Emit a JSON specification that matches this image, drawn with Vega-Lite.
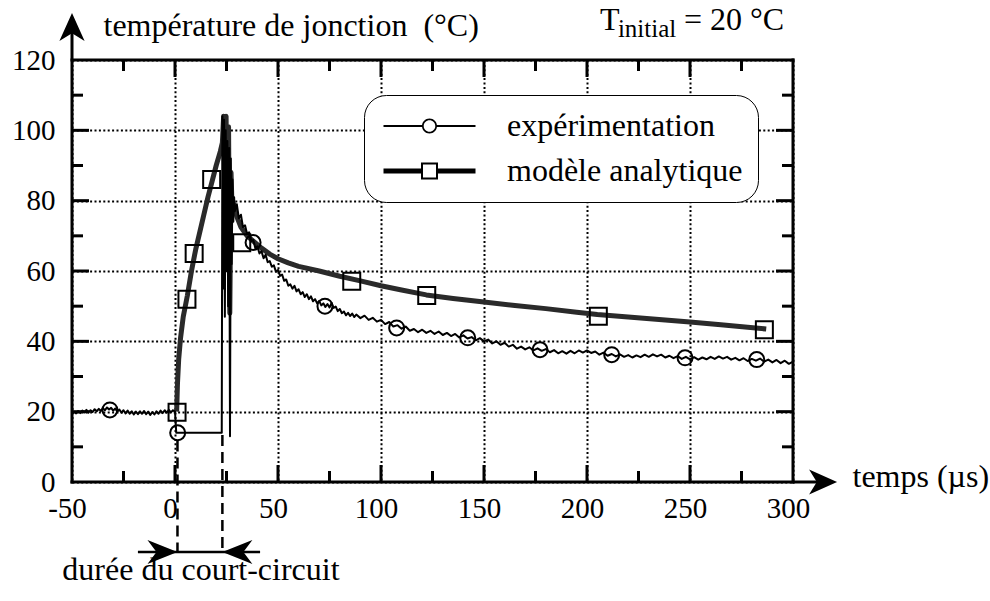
{
  "$schema": "https://vega.github.io/schema/vega-lite/v6.json",
  "width": 721,
  "height": 422,
  "autosize": "none",
  "padding": {"left": 72, "top": 60, "right": 197, "bottom": 119},
  "background": "white",
  "config": {
    "view": {"stroke": null},
    "font": "Liberation Serif",
    "text": {"font": "Liberation Serif", "color": "black"}
  },
  "datasets": {
    "exp": [
      {"t": -50, "temp": 19.4}, {"t": -49, "temp": 19.9}, {"t": -48, "temp": 19.5}, {"t": -47, "temp": 20.2},
      {"t": -46, "temp": 19.6}, {"t": -45, "temp": 20.3}, {"t": -44, "temp": 19.8}, {"t": -43, "temp": 20.5},
      {"t": -42, "temp": 19.7}, {"t": -41, "temp": 20.4}, {"t": -40, "temp": 19.9}, {"t": -39, "temp": 20.7},
      {"t": -38, "temp": 20.1}, {"t": -37, "temp": 20.8}, {"t": -36, "temp": 20.2}, {"t": -35, "temp": 21.0},
      {"t": -34, "temp": 20.4}, {"t": -33, "temp": 21.2}, {"t": -32, "temp": 20.6}, {"t": -31, "temp": 21.1},
      {"t": -30, "temp": 20.3}, {"t": -29, "temp": 20.9}, {"t": -28, "temp": 20.0}, {"t": -27, "temp": 20.6},
      {"t": -26, "temp": 19.7}, {"t": -25, "temp": 20.4}, {"t": -24, "temp": 19.5}, {"t": -23, "temp": 20.3},
      {"t": -22, "temp": 19.4}, {"t": -21, "temp": 20.1}, {"t": -20, "temp": 19.2}, {"t": -19, "temp": 20.0},
      {"t": -18, "temp": 19.3}, {"t": -17, "temp": 20.1}, {"t": -16, "temp": 19.4}, {"t": -15, "temp": 20.2},
      {"t": -14, "temp": 19.3}, {"t": -13, "temp": 20.0}, {"t": -12, "temp": 19.1}, {"t": -11, "temp": 19.9},
      {"t": -10, "temp": 19.2}, {"t": -9, "temp": 20.1}, {"t": -8, "temp": 19.4}, {"t": -7, "temp": 20.3},
      {"t": -6, "temp": 19.6}, {"t": -5, "temp": 20.4}, {"t": -4, "temp": 19.7}, {"t": -3, "temp": 20.5},
      {"t": -2, "temp": 19.8}, {"t": -1, "temp": 20.4}, {"t": 0, "temp": 20.0}, {"t": 0.6, "temp": 14.0},
      {"t": 22.7, "temp": 14.0}, {"t": 23.0, "temp": 104}, {"t": 23.4, "temp": 55}, {"t": 23.8, "temp": 103},
      {"t": 24.2, "temp": 47}, {"t": 24.6, "temp": 100}, {"t": 25.0, "temp": 60}, {"t": 25.4, "temp": 97},
      {"t": 25.8, "temp": 50}, {"t": 26.3, "temp": 95}, {"t": 26.7, "temp": 13}, {"t": 27.1, "temp": 92},
      {"t": 27.5, "temp": 62}, {"t": 27.9, "temp": 86}, {"t": 28.3, "temp": 74}, {"t": 28.7, "temp": 81},
      {"t": 29, "temp": 77}, {"t": 30, "temp": 79}, {"t": 31, "temp": 75}, {"t": 32, "temp": 76},
      {"t": 33, "temp": 72.5}, {"t": 34, "temp": 73}, {"t": 35, "temp": 70.5}, {"t": 36, "temp": 71},
      {"t": 37, "temp": 68.5}, {"t": 38, "temp": 68.8}, {"t": 39, "temp": 66.5}, {"t": 40, "temp": 67},
      {"t": 41, "temp": 65}, {"t": 42, "temp": 65.6}, {"t": 43, "temp": 63.6}, {"t": 44, "temp": 64.6},
      {"t": 45, "temp": 62.5}, {"t": 46, "temp": 62.8}, {"t": 47, "temp": 61.2}, {"t": 48, "temp": 61.6},
      {"t": 49, "temp": 59.8}, {"t": 50, "temp": 60.3}, {"t": 51, "temp": 58.6}, {"t": 52, "temp": 59},
      {"t": 53, "temp": 57.2}, {"t": 54, "temp": 57.6}, {"t": 55, "temp": 55.8}, {"t": 56, "temp": 56.2},
      {"t": 57, "temp": 55.0}, {"t": 58, "temp": 55.8}, {"t": 59, "temp": 54.2}, {"t": 60, "temp": 54.8},
      {"t": 61, "temp": 53.4}, {"t": 62, "temp": 54.0}, {"t": 63, "temp": 52.6}, {"t": 64, "temp": 53.4},
      {"t": 65, "temp": 52.0}, {"t": 66, "temp": 52.8}, {"t": 67, "temp": 51.4}, {"t": 68, "temp": 52.0},
      {"t": 69, "temp": 50.8}, {"t": 70, "temp": 51.5}, {"t": 71, "temp": 50.2}, {"t": 72, "temp": 50.8},
      {"t": 73, "temp": 49.8}, {"t": 74, "temp": 50.6}, {"t": 75, "temp": 49.6}, {"t": 76, "temp": 50.9},
      {"t": 77, "temp": 49.5}, {"t": 78, "temp": 49.9}, {"t": 79, "temp": 48.6}, {"t": 80, "temp": 49.2},
      {"t": 81, "temp": 48.0}, {"t": 82, "temp": 48.5}, {"t": 83, "temp": 47.4}, {"t": 84, "temp": 48.1},
      {"t": 85, "temp": 47.2}, {"t": 86, "temp": 47.9}, {"t": 87, "temp": 46.9}, {"t": 88, "temp": 47.6},
      {"t": 90, "temp": 46.6}, {"t": 92, "temp": 47.3}, {"t": 94, "temp": 46.1}, {"t": 96, "temp": 46.7},
      {"t": 98, "temp": 45.6}, {"t": 100, "temp": 46.1}, {"t": 102, "temp": 44.9}, {"t": 104, "temp": 45.5},
      {"t": 106, "temp": 44.2}, {"t": 108, "temp": 44.6}, {"t": 110, "temp": 43.6}, {"t": 112, "temp": 44.2},
      {"t": 114, "temp": 43.0}, {"t": 116, "temp": 43.5}, {"t": 118, "temp": 42.6}, {"t": 120, "temp": 43.3},
      {"t": 122, "temp": 42.4}, {"t": 124, "temp": 43.0}, {"t": 126, "temp": 42.1}, {"t": 128, "temp": 42.8},
      {"t": 130, "temp": 41.8}, {"t": 132, "temp": 42.4}, {"t": 134, "temp": 41.5}, {"t": 136, "temp": 42.1},
      {"t": 138, "temp": 41.1}, {"t": 140, "temp": 41.7}, {"t": 142, "temp": 40.8}, {"t": 144, "temp": 41.2},
      {"t": 146, "temp": 40.3}, {"t": 148, "temp": 40.9}, {"t": 150, "temp": 40.0}, {"t": 152, "temp": 40.5},
      {"t": 154, "temp": 39.4}, {"t": 156, "temp": 40.0}, {"t": 158, "temp": 39.0}, {"t": 160, "temp": 39.6},
      {"t": 162, "temp": 38.5}, {"t": 164, "temp": 39.0}, {"t": 166, "temp": 37.9}, {"t": 168, "temp": 38.5},
      {"t": 170, "temp": 37.7}, {"t": 172, "temp": 38.3}, {"t": 174, "temp": 37.4}, {"t": 176, "temp": 38.0},
      {"t": 178, "temp": 37.3}, {"t": 180, "temp": 37.8}, {"t": 182, "temp": 36.9}, {"t": 184, "temp": 37.5},
      {"t": 186, "temp": 36.6}, {"t": 188, "temp": 37.2}, {"t": 190, "temp": 36.5}, {"t": 192, "temp": 37.3},
      {"t": 194, "temp": 36.6}, {"t": 196, "temp": 37.4}, {"t": 198, "temp": 36.8}, {"t": 200, "temp": 37.4},
      {"t": 202, "temp": 36.7}, {"t": 204, "temp": 37.1}, {"t": 206, "temp": 36.2}, {"t": 208, "temp": 36.8},
      {"t": 210, "temp": 35.9}, {"t": 212, "temp": 36.4}, {"t": 214, "temp": 35.7}, {"t": 216, "temp": 36.3},
      {"t": 218, "temp": 35.6}, {"t": 220, "temp": 36.1}, {"t": 222, "temp": 35.4}, {"t": 224, "temp": 36.0},
      {"t": 226, "temp": 35.5}, {"t": 228, "temp": 36.2}, {"t": 230, "temp": 35.6}, {"t": 232, "temp": 36.3},
      {"t": 234, "temp": 35.7}, {"t": 236, "temp": 36.2}, {"t": 238, "temp": 35.4}, {"t": 240, "temp": 35.9},
      {"t": 242, "temp": 35.2}, {"t": 244, "temp": 35.8}, {"t": 246, "temp": 35.0}, {"t": 248, "temp": 35.6},
      {"t": 250, "temp": 34.9}, {"t": 252, "temp": 35.5}, {"t": 254, "temp": 34.8}, {"t": 256, "temp": 35.4},
      {"t": 258, "temp": 34.9}, {"t": 260, "temp": 35.6}, {"t": 262, "temp": 35.0}, {"t": 264, "temp": 35.7},
      {"t": 266, "temp": 35.1}, {"t": 268, "temp": 35.6}, {"t": 270, "temp": 34.8}, {"t": 272, "temp": 35.3},
      {"t": 274, "temp": 34.6}, {"t": 276, "temp": 35.2}, {"t": 278, "temp": 34.4}, {"t": 280, "temp": 35.0},
      {"t": 282, "temp": 34.5}, {"t": 284, "temp": 35.1}, {"t": 286, "temp": 34.2}, {"t": 288, "temp": 34.8},
      {"t": 290, "temp": 34.0}, {"t": 292, "temp": 34.7}, {"t": 294, "temp": 33.8}, {"t": 296, "temp": 34.5},
      {"t": 298, "temp": 33.6}, {"t": 300, "temp": 34.2}
    ],
    "mod": [
      {"t": 0.8, "temp": 20}, {"t": 1.2, "temp": 28}, {"t": 1.8, "temp": 35}, {"t": 2.7, "temp": 41},
      {"t": 4, "temp": 47}, {"t": 6, "temp": 53}, {"t": 8, "temp": 60}, {"t": 10, "temp": 66},
      {"t": 12, "temp": 71}, {"t": 14, "temp": 76}, {"t": 16, "temp": 81}, {"t": 18, "temp": 85.5},
      {"t": 20, "temp": 90}, {"t": 22, "temp": 94}, {"t": 23, "temp": 96.5}, {"t": 23.6, "temp": 104},
      {"t": 24.2, "temp": 82}, {"t": 24.8, "temp": 104}, {"t": 25.4, "temp": 62}, {"t": 26, "temp": 101},
      {"t": 26.6, "temp": 48}, {"t": 27.2, "temp": 88}, {"t": 27.8, "temp": 76}, {"t": 28.5, "temp": 79},
      {"t": 30, "temp": 75.5}, {"t": 32, "temp": 72.5}, {"t": 35, "temp": 70}, {"t": 38, "temp": 68.5},
      {"t": 42, "temp": 66.5}, {"t": 46, "temp": 64.8}, {"t": 50, "temp": 63.5}, {"t": 55, "temp": 62.3},
      {"t": 60, "temp": 61.3}, {"t": 70, "temp": 60}, {"t": 80, "temp": 58.5}, {"t": 90, "temp": 57.2},
      {"t": 100, "temp": 55.8}, {"t": 110, "temp": 54.6}, {"t": 122, "temp": 53.2}, {"t": 135, "temp": 52.2},
      {"t": 150, "temp": 51.2}, {"t": 165, "temp": 50.2}, {"t": 180, "temp": 49.3}, {"t": 195, "temp": 48.3},
      {"t": 205, "temp": 47.6}, {"t": 220, "temp": 46.9}, {"t": 235, "temp": 46.2}, {"t": 250, "temp": 45.5},
      {"t": 265, "temp": 44.7}, {"t": 278, "temp": 44}, {"t": 287, "temp": 43.5}
    ],
    "exp_pts": [
      {"t": -31.6, "temp": 20.5}, {"t": 1.3, "temp": 14}, {"t": 37.9, "temp": 68.1}, {"t": 72.8, "temp": 50},
      {"t": 107.6, "temp": 43.8}, {"t": 142.1, "temp": 41}, {"t": 177.2, "temp": 37.6}, {"t": 212, "temp": 36.2},
      {"t": 247.6, "temp": 35.3}, {"t": 282.4, "temp": 34.8}
    ],
    "mod_pts": [
      {"t": 1, "temp": 19.8}, {"t": 5.8, "temp": 52}, {"t": 9.3, "temp": 65}, {"t": 17.8, "temp": 86},
      {"t": 32.4, "temp": 68}, {"t": 85.8, "temp": 57.1}, {"t": 122.2, "temp": 53}, {"t": 205.5, "temp": 47.1},
      {"t": 286.1, "temp": 43.3}
    ],
    "series": [
      {"serie": "expérimentation"}, {"serie": "modèle analytique"}
    ]
  },
  "layer": [
    {
      "data": {"name": "mod"},
      "mark": {"type": "line", "color": "#2a2a2a", "strokeWidth": 5, "strokeJoin": "round"},
      "encoding": {
        "x": {
          "field": "t", "type": "quantitative",
          "scale": {"domain": [-50, 300], "nice": false, "zero": false},
          "axis": {
            "orient": "bottom",
            "values": [-50, 0, 50, 100, 150, 200, 250, 300],
            "domain": false, "ticks": false,
            "grid": true, "gridColor": "black", "gridWidth": 2, "gridDash": [2, 2.4],
            "labelExpr": "'' + datum.value",
            "labelFont": "Liberation Serif", "labelFontSize": 29, "labelColor": "black",
            "labelBaseline": "top", "labelPadding": 12, "labelFlush": false, "labelOverlap": false,
            "labelOffset": -5,
            "title": "temps (µs)", "titleFont": "Liberation Serif", "titleFontSize": 32,
            "titleFontWeight": "normal", "titleColor": "black", "titleAngle": 0,
            "titleAlign": "left", "titleBaseline": "alphabetic", "titleX": 780, "titleY": 4
          }
        },
        "y": {
          "field": "temp", "type": "quantitative",
          "scale": {"domain": [0, 120], "nice": false, "zero": false},
          "axis": {
            "orient": "left",
            "values": [0, 20, 40, 60, 80, 100, 120],
            "domain": false, "ticks": false,
            "grid": true, "gridColor": "black", "gridWidth": 2, "gridDash": [2, 2.4],
            "labelFont": "Liberation Serif", "labelFontSize": 29, "labelColor": "black",
            "labelPadding": 17, "labelFlush": false, "labelOverlap": false,
            "title": "température de jonction\u00a0 (°C)", "titleFont": "Liberation Serif", "titleFontSize": 32,
            "titleFontWeight": "normal", "titleColor": "black", "titleAngle": 0,
            "titleAlign": "left", "titleBaseline": "alphabetic", "titleX": 31, "titleY": -25
          }
        }
      }
    },
    {
      "data": {"name": "exp"},
      "mark": {"type": "line", "color": "black", "strokeWidth": 2, "strokeJoin": "round"},
      "encoding": {
        "x": {"field": "t", "type": "quantitative", "scale": {"domain": [-50, 300], "nice": false, "zero": false}, "axis": null},
        "y": {"field": "temp", "type": "quantitative", "scale": {"domain": [0, 120], "nice": false, "zero": false}, "axis": null}
      }
    },
    {
      "data": {"name": "exp_pts"},
      "mark": {"type": "point", "shape": "circle", "size": 225, "filled": false, "color": "black", "strokeWidth": 2, "opacity": 1},
      "encoding": {
        "x": {"field": "t", "type": "quantitative", "scale": {"domain": [-50, 300], "nice": false, "zero": false}, "axis": null},
        "y": {"field": "temp", "type": "quantitative", "scale": {"domain": [0, 120], "nice": false, "zero": false}, "axis": null}
      }
    },
    {
      "data": {"name": "mod_pts"},
      "mark": {"type": "point", "shape": "square", "size": 289, "filled": false, "color": "black", "strokeWidth": 2, "opacity": 1},
      "encoding": {
        "x": {"field": "t", "type": "quantitative", "scale": {"domain": [-50, 300], "nice": false, "zero": false}, "axis": null},
        "y": {"field": "temp", "type": "quantitative", "scale": {"domain": [0, 120], "nice": false, "zero": false}, "axis": null}
      }
    },
    {
      "data": {"values": [{}]},
      "mark": {"type": "rule", "color": "black", "strokeWidth": 3, "strokeCap": "square"},
      "encoding": {
        "x": {"datum": -50, "type": "quantitative", "scale": {"domain": [-50, 300], "nice": false, "zero": false}, "axis": null},
        "x2": {"datum": 300},
        "y": {"datum": 0, "type": "quantitative", "scale": {"domain": [0, 120], "nice": false, "zero": false}, "axis": null}
      }
    },
    {
      "data": {"values": [{}]},
      "mark": {"type": "rule", "color": "black", "strokeWidth": 3, "strokeCap": "square"},
      "encoding": {
        "x": {"datum": -50, "type": "quantitative", "scale": {"domain": [-50, 300], "nice": false, "zero": false}, "axis": null},
        "x2": {"datum": 300},
        "y": {"datum": 120, "type": "quantitative", "scale": {"domain": [0, 120], "nice": false, "zero": false}, "axis": null}
      }
    },
    {
      "data": {"values": [{}]},
      "mark": {"type": "rule", "color": "black", "strokeWidth": 3, "strokeCap": "square"},
      "encoding": {
        "x": {"datum": -50, "type": "quantitative", "scale": {"domain": [-50, 300], "nice": false, "zero": false}, "axis": null},
        "y": {"datum": 0, "type": "quantitative", "scale": {"domain": [0, 120], "nice": false, "zero": false}, "axis": null},
        "y2": {"datum": 128}
      }
    },
    {
      "data": {"values": [{}]},
      "mark": {"type": "rule", "color": "black", "strokeWidth": 3, "strokeCap": "square"},
      "encoding": {
        "x": {"datum": 300, "type": "quantitative", "scale": {"domain": [-50, 300], "nice": false, "zero": false}, "axis": null},
        "y": {"datum": 0, "type": "quantitative", "scale": {"domain": [0, 120], "nice": false, "zero": false}, "axis": null},
        "y2": {"datum": 120}
      }
    },
    {
      "data": {"values": [{"tick": 0}, {"tick": 50}, {"tick": 100}, {"tick": 150}, {"tick": 200}, {"tick": 250}]},
      "mark": {"type": "rule", "color": "black", "strokeWidth": 3},
      "encoding": {
        "x": {"field": "tick", "type": "quantitative", "scale": {"domain": [-50, 300], "nice": false, "zero": false}, "axis": null},
        "y": {"datum": 0, "type": "quantitative", "scale": {"domain": [0, 120], "nice": false, "zero": false}, "axis": null},
        "y2": {"datum": 4.83}
      }
    },
    {
      "data": {"values": [{"tick": 0}, {"tick": 50}, {"tick": 100}, {"tick": 150}, {"tick": 200}, {"tick": 250}]},
      "mark": {"type": "rule", "color": "black", "strokeWidth": 3},
      "encoding": {
        "x": {"field": "tick", "type": "quantitative", "scale": {"domain": [-50, 300], "nice": false, "zero": false}, "axis": null},
        "y": {"datum": 120, "type": "quantitative", "scale": {"domain": [0, 120], "nice": false, "zero": false}, "axis": null},
        "y2": {"datum": 115.17}
      }
    },
    {
      "data": {"values": [{"tick": -25}, {"tick": 25}, {"tick": 75}, {"tick": 125}, {"tick": 175}, {"tick": 225}, {"tick": 275}]},
      "mark": {"type": "rule", "color": "black", "strokeWidth": 3},
      "encoding": {
        "x": {"field": "tick", "type": "quantitative", "scale": {"domain": [-50, 300], "nice": false, "zero": false}, "axis": null},
        "y": {"datum": 0, "type": "quantitative", "scale": {"domain": [0, 120], "nice": false, "zero": false}, "axis": null},
        "y2": {"datum": 3.13}
      }
    },
    {
      "data": {"values": [{"tick": -25}, {"tick": 25}, {"tick": 75}, {"tick": 125}, {"tick": 175}, {"tick": 225}, {"tick": 275}]},
      "mark": {"type": "rule", "color": "black", "strokeWidth": 3},
      "encoding": {
        "x": {"field": "tick", "type": "quantitative", "scale": {"domain": [-50, 300], "nice": false, "zero": false}, "axis": null},
        "y": {"datum": 120, "type": "quantitative", "scale": {"domain": [0, 120], "nice": false, "zero": false}, "axis": null},
        "y2": {"datum": 116.87}
      }
    },
    {
      "data": {"values": [{"tick": 20}, {"tick": 40}, {"tick": 60}, {"tick": 80}, {"tick": 100}]},
      "mark": {"type": "rule", "color": "black", "strokeWidth": 3},
      "encoding": {
        "y": {"field": "tick", "type": "quantitative", "scale": {"domain": [0, 120], "nice": false, "zero": false}, "axis": null},
        "x": {"datum": -50, "type": "quantitative", "scale": {"domain": [-50, 300], "nice": false, "zero": false}, "axis": null},
        "x2": {"datum": -41.75}
      }
    },
    {
      "data": {"values": [{"tick": 20}, {"tick": 40}, {"tick": 60}, {"tick": 80}, {"tick": 100}]},
      "mark": {"type": "rule", "color": "black", "strokeWidth": 3},
      "encoding": {
        "y": {"field": "tick", "type": "quantitative", "scale": {"domain": [0, 120], "nice": false, "zero": false}, "axis": null},
        "x": {"datum": 300, "type": "quantitative", "scale": {"domain": [-50, 300], "nice": false, "zero": false}, "axis": null},
        "x2": {"datum": 291.75}
      }
    },
    {
      "data": {"values": [{"tick": 10}, {"tick": 30}, {"tick": 50}, {"tick": 70}, {"tick": 90}, {"tick": 110}]},
      "mark": {"type": "rule", "color": "black", "strokeWidth": 3},
      "encoding": {
        "y": {"field": "tick", "type": "quantitative", "scale": {"domain": [0, 120], "nice": false, "zero": false}, "axis": null},
        "x": {"datum": -50, "type": "quantitative", "scale": {"domain": [-50, 300], "nice": false, "zero": false}, "axis": null},
        "x2": {"datum": -44.66}
      }
    },
    {
      "data": {"values": [{"tick": 10}, {"tick": 30}, {"tick": 50}, {"tick": 70}, {"tick": 90}, {"tick": 110}]},
      "mark": {"type": "rule", "color": "black", "strokeWidth": 3},
      "encoding": {
        "y": {"field": "tick", "type": "quantitative", "scale": {"domain": [0, 120], "nice": false, "zero": false}, "axis": null},
        "x": {"datum": 300, "type": "quantitative", "scale": {"domain": [-50, 300], "nice": false, "zero": false}, "axis": null},
        "x2": {"datum": 294.66}
      }
    },
    {
      "data": {"name": "series"},
      "mark": {"type": "point", "opacity": 0, "filled": true, "color": "black", "strokeWidth": 0},
      "encoding": {
        "x": {"datum": 100, "type": "quantitative", "scale": {"domain": [-50, 300], "nice": false, "zero": false}, "axis": null},
        "y": {"datum": 100, "type": "quantitative", "scale": {"domain": [0, 120], "nice": false, "zero": false}, "axis": null},
        "shape": {
          "field": "serie", "type": "nominal",
          "scale": {
            "domain": ["expérimentation", "modèle analytique"],
            "range": [
              "M-4.6,-0.1H-0.72V0.1H-4.6Z M0.72,-0.1H4.6V0.1H0.72Z M0.75,0A0.75,0.75,0,1,1,-0.75,0A0.75,0.75,0,1,1,0.75,0Z M0.58,0A0.58,0.58,0,1,0,-0.58,0A0.58,0.58,0,1,0,0.58,0Z",
              "M-4.6,-0.25H-0.8V0.25H-4.6Z M0.8,-0.25H4.6V0.25H0.8Z M-0.85,-0.85H0.85V0.85H-0.85Z M-0.65,-0.65V0.65H0.65V-0.65Z"
            ]
          },
          "legend": {
            "orient": "top-right", "offset": 35, "title": null,
            "symbolSize": 400, "symbolOffset": 34.5, "labelOffset": 61.5, "labelLimit": 500,
            "symbolFillColor": "black", "symbolStrokeColor": "black", "symbolStrokeWidth": 0, "symbolOpacity": 1,
            "labelFont": "Liberation Serif", "labelFontSize": 32, "labelColor": "black",
            "padding": 15, "rowPadding": 13,
            "strokeColor": "black", "fillColor": "white", "cornerRadius": 22,
            "encode": {
              "symbols": {"fill": {"value": "black"}, "stroke": {"value": "transparent"}, "opacity": {"value": 1}},
              "legend": {"strokeWidth": {"value": 3}}
            }
          }
        }
      }
    },
    {
      "data": {"values": [{}]},
      "mark": {"type": "point", "shape": "M0,0L-0.9,2L0,1.45L0.9,2Z", "size": 784, "filled": true, "color": "black", "opacity": 1, "strokeWidth": 0},
      "encoding": {
        "x": {"datum": -50, "type": "quantitative", "scale": {"domain": [-50, 300], "nice": false, "zero": false}, "axis": null},
        "y": {"datum": 133.4, "type": "quantitative", "scale": {"domain": [0, 120], "nice": false, "zero": false}, "axis": null}
      }
    },
    {
      "data": {"values": [{}]},
      "mark": {"type": "rule", "color": "black", "strokeWidth": 3},
      "encoding": {
        "x": {"datum": 300, "type": "quantitative", "scale": {"domain": [-50, 300], "nice": false, "zero": false}, "axis": null},
        "x2": {"datum": 314},
        "y": {"datum": 0, "type": "quantitative", "scale": {"domain": [0, 120], "nice": false, "zero": false}, "axis": null}
      }
    },
    {
      "data": {"values": [{}]},
      "mark": {"type": "point", "shape": "M0,0L-2,-0.9L-1.45,0L-2,0.9Z", "size": 784, "filled": true, "color": "black", "opacity": 1, "strokeWidth": 0},
      "encoding": {
        "x": {"datum": 321.4, "type": "quantitative", "scale": {"domain": [-50, 300], "nice": false, "zero": false}, "axis": null},
        "y": {"datum": 0, "type": "quantitative", "scale": {"domain": [0, 120], "nice": false, "zero": false}, "axis": null}
      }
    },
    {
      "data": {"values": [{}]},
      "mark": {"type": "rule", "color": "black", "strokeWidth": 2.5, "strokeDash": [11, 6]},
      "encoding": {
        "x": {"datum": 1.2, "type": "quantitative", "scale": {"domain": [-50, 300], "nice": false, "zero": false}, "axis": null},
        "y": {"datum": 11.8, "type": "quantitative", "scale": {"domain": [0, 120], "nice": false, "zero": false}, "axis": null},
        "y2": {"datum": -19.9}
      }
    },
    {
      "data": {"values": [{}]},
      "mark": {"type": "rule", "color": "black", "strokeWidth": 2.5, "strokeDash": [11, 6]},
      "encoding": {
        "x": {"datum": 23, "type": "quantitative", "scale": {"domain": [-50, 300], "nice": false, "zero": false}, "axis": null},
        "y": {"datum": 13.4, "type": "quantitative", "scale": {"domain": [0, 120], "nice": false, "zero": false}, "axis": null},
        "y2": {"datum": -19.9}
      }
    },
    {
      "data": {"values": [{}]},
      "mark": {"type": "rule", "color": "black", "strokeWidth": 2.5},
      "encoding": {
        "x": {"datum": -18, "type": "quantitative", "scale": {"domain": [-50, 300], "nice": false, "zero": false}, "axis": null},
        "x2": {"datum": 41.3},
        "y": {"datum": -19.9, "type": "quantitative", "scale": {"domain": [0, 120], "nice": false, "zero": false}, "axis": null}
      }
    },
    {
      "data": {"values": [{}]},
      "mark": {"type": "point", "shape": "M0,0L-2,-0.8L-1.4,0L-2,0.8Z", "size": 900, "filled": true, "color": "black", "opacity": 1, "strokeWidth": 0},
      "encoding": {
        "x": {"datum": 1.2, "type": "quantitative", "scale": {"domain": [-50, 300], "nice": false, "zero": false}, "axis": null},
        "y": {"datum": -19.9, "type": "quantitative", "scale": {"domain": [0, 120], "nice": false, "zero": false}, "axis": null}
      }
    },
    {
      "data": {"values": [{}]},
      "mark": {"type": "point", "shape": "M0,0L2,-0.8L1.4,0L2,0.8Z", "size": 900, "filled": true, "color": "black", "opacity": 1, "strokeWidth": 0},
      "encoding": {
        "x": {"datum": 23, "type": "quantitative", "scale": {"domain": [-50, 300], "nice": false, "zero": false}, "axis": null},
        "y": {"datum": -19.9, "type": "quantitative", "scale": {"domain": [0, 120], "nice": false, "zero": false}, "axis": null}
      }
    },
    {
      "data": {"values": [{}]},
      "mark": {"type": "text", "text": "durée du court-circuit", "align": "center", "baseline": "alphabetic", "fontSize": 32, "font": "Liberation Serif", "color": "black"},
      "encoding": {
        "x": {"datum": 12.6, "type": "quantitative", "scale": {"domain": [-50, 300], "nice": false, "zero": false}, "axis": null},
        "y": {"datum": -27.8, "type": "quantitative", "scale": {"domain": [0, 120], "nice": false, "zero": false}, "axis": null}
      }
    },
    {
      "data": {"values": [{}]},
      "mark": {"type": "text", "text": "T", "align": "left", "baseline": "alphabetic", "fontSize": 32, "font": "Liberation Serif", "color": "black"},
      "encoding": {
        "x": {"datum": 206.3, "type": "quantitative", "scale": {"domain": [-50, 300], "nice": false, "zero": false}, "axis": null},
        "y": {"datum": 128.5, "type": "quantitative", "scale": {"domain": [0, 120], "nice": false, "zero": false}, "axis": null}
      }
    },
    {
      "data": {"values": [{}]},
      "mark": {"type": "text", "text": "initial", "align": "left", "baseline": "alphabetic", "fontSize": 25, "font": "Liberation Serif", "color": "black"},
      "encoding": {
        "x": {"datum": 215, "type": "quantitative", "scale": {"domain": [-50, 300], "nice": false, "zero": false}, "axis": null},
        "y": {"datum": 126.5, "type": "quantitative", "scale": {"domain": [0, 120], "nice": false, "zero": false}, "axis": null}
      }
    },
    {
      "data": {"values": [{}]},
      "mark": {"type": "text", "text": "= 20 °C", "align": "left", "baseline": "alphabetic", "fontSize": 32, "font": "Liberation Serif", "color": "black"},
      "encoding": {
        "x": {"datum": 247.1, "type": "quantitative", "scale": {"domain": [-50, 300], "nice": false, "zero": false}, "axis": null},
        "y": {"datum": 128.5, "type": "quantitative", "scale": {"domain": [0, 120], "nice": false, "zero": false}, "axis": null}
      }
    }
  ],
  "resolve": {"axis": {"x": "independent", "y": "independent"}}
}
